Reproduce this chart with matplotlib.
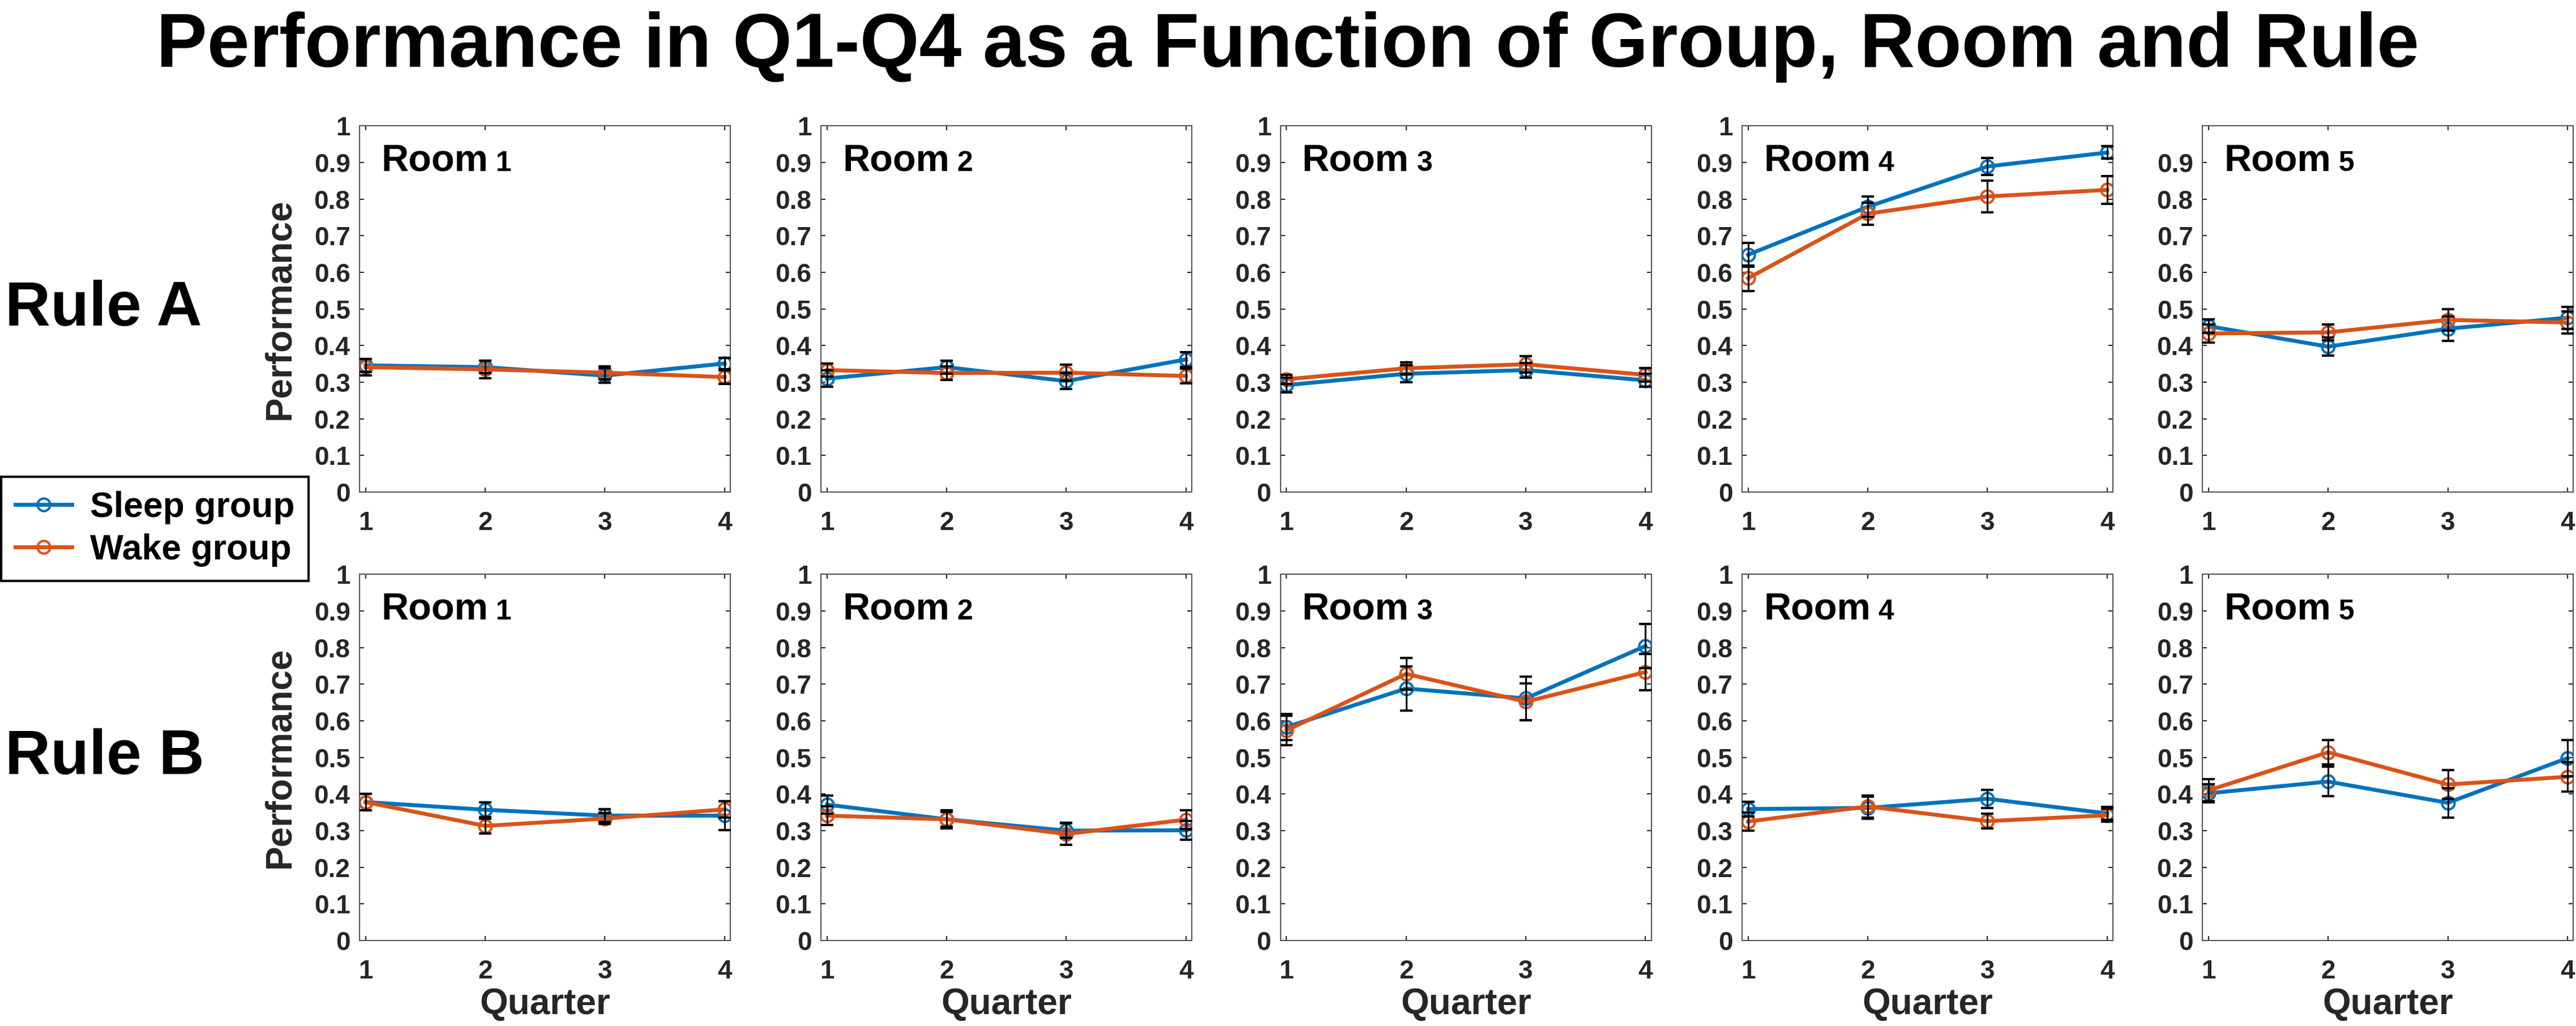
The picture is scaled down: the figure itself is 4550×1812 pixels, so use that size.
import numpy as np
import matplotlib.pyplot as plt

plt.rcParams['font.family'] = ['Liberation Sans', 'DejaVu Sans']
plt.rcParams['font.weight'] = 'bold'

quarters = [1, 2, 3, 4]
rooms = ['1', '2', '3', '4', '5']
rules = ['Rule A', 'Rule B']
groups = ['Sleep group', 'Wake group']

# rows = room 1..5, columns = Q1..Q4
sleep_a = [[0.346, 0.341, 0.318, 0.351],
           [0.310, 0.341, 0.303, 0.362],
           [0.292, 0.323, 0.333, 0.305],
           [0.648, 0.779, 0.889, 0.927],
           [0.453, 0.397, 0.446, 0.476]]
wake_a = [[0.341, 0.335, 0.326, 0.314],
          [0.333, 0.325, 0.326, 0.317],
          [0.308, 0.338, 0.349, 0.320],
          [0.584, 0.760, 0.807, 0.825],
          [0.433, 0.436, 0.470, 0.463]]
sleep_a_err = [[0.018, 0.017, 0.020, 0.016],
               [0.022, 0.018, 0.021, 0.020],
               [0.020, 0.023, 0.020, 0.018],
               [0.032, 0.028, 0.023, 0.017],
               [0.018, 0.025, 0.033, 0.030]]
wake_a_err = [[0.022, 0.024, 0.018, 0.019],
              [0.018, 0.019, 0.022, 0.020],
              [0.012, 0.016, 0.022, 0.018],
              [0.035, 0.030, 0.044, 0.038],
              [0.025, 0.022, 0.030, 0.030]]

sleep_b = [[0.378, 0.357, 0.341, 0.341],
           [0.371, 0.331, 0.300, 0.301],
           [0.583, 0.688, 0.661, 0.804],
           [0.359, 0.362, 0.387, 0.347],
           [0.402, 0.434, 0.376, 0.498]]
wake_b = [[0.378, 0.313, 0.333, 0.358],
          [0.341, 0.331, 0.291, 0.330],
          [0.574, 0.728, 0.652, 0.733],
          [0.325, 0.366, 0.326, 0.342],
          [0.410, 0.514, 0.426, 0.447]]
sleep_b_err = [[0.022, 0.020, 0.018, 0.040],
               [0.025, 0.025, 0.020, 0.025],
               [0.035, 0.060, 0.060, 0.060],
               [0.020, 0.030, 0.025, 0.018],
               [0.025, 0.040, 0.040, 0.050]]
wake_b_err = [[0.022, 0.020, 0.015, 0.022],
              [0.025, 0.020, 0.030, 0.025],
              [0.040, 0.043, 0.050, 0.050],
              [0.025, 0.030, 0.020, 0.018],
              [0.030, 0.033, 0.040, 0.040]]

sleep_col = '#0072BD'
wake_col = '#D95319'
axis_col = '#262626'

fig = plt.figure(figsize=(45.5, 18.12), dpi=100)

lefts = [0.1396, 0.3187, 0.4971, 0.6763, 0.8550]
bottoms = [0.5204, 0.0833]
w, h = 0.144, 0.357

data = [(sleep_a, wake_a, sleep_a_err, wake_a_err),
        (sleep_b, wake_b, sleep_b_err, wake_b_err)]

handles = None
for r in range(2):
    s, wk, se, we = data[r]
    for c in range(5):
        ax = fig.add_axes([lefts[c], bottoms[r], w, h])
        l1, = ax.plot(quarters, s[c], '-o', color=sleep_col, lw=5, ms=16,
                      mfc='none', mew=3, zorder=2)
        l2, = ax.plot(quarters, wk[c], '-o', color=wake_col, lw=5, ms=16,
                      mfc='none', mew=3, zorder=2)
        ax.errorbar(quarters, s[c], yerr=se[c], fmt='none', ecolor='k',
                    elinewidth=2.2, capsize=8, capthick=3, zorder=3)
        ax.errorbar(quarters, wk[c], yerr=we[c], fmt='none', ecolor='k',
                    elinewidth=2.2, capsize=8, capthick=3, zorder=3)
        if handles is None:
            handles = [l1, l2]

        ax.set_xlim(0.95, 4.05)
        ax.set_ylim(0, 1)
        ax.set_xticks(quarters)
        ax.set_xticklabels([str(q) for q in quarters])
        if r == 0 and c == 4:
            yt = np.round(np.arange(0, 0.95, 0.1), 1)
        else:
            yt = np.round(np.arange(0, 1.05, 0.1), 1)
        ax.set_yticks(yt)
        ax.set_yticklabels(['0' if v == 0 else ('1' if v == 1 else f'{v:g}') for v in yt])
        ax.tick_params(axis='both', direction='in', length=6, width=1.5,
                       color=axis_col, labelcolor=axis_col, labelsize=33,
                       top=True, right=True)
        ax.tick_params(axis='x', pad=24)
        ax.tick_params(axis='y', pad=12)
        for sp in ax.spines.values():
            sp.set_color('#555555')
            sp.set_linewidth(1.5)

        t = ax.text(0.058, 0.878, 'Room', transform=ax.transAxes, fontsize=48,
                    fontweight='bold', color='black', va='baseline', ha='left')
        ax.annotate(' ' + rooms[c], xy=(1, 0), xycoords=t, xytext=(0, 2.5),
                    textcoords='offset points', fontsize=36, fontweight='bold',
                    color='black', va='bottom', ha='left')

        if c == 0:
            ax.set_ylabel('Performance', fontsize=46, fontweight='bold',
                          color=axis_col, labelpad=22)
        if r == 1:
            ax.set_xlabel('Quarter', fontsize=46, fontweight='bold',
                          color=axis_col, labelpad=4)

for r in range(2):
    fig.text(0.002, bottoms[r] + h / 2, rules[r], fontsize=80,
             fontweight='bold', va='center', ha='left')

fig.suptitle('Performance in Q1-Q4 as a Function of Group, Room and Rule',
             x=0.5, y=0.954, fontsize=97, fontweight='bold', va='center')

leg = fig.legend(handles, groups, loc='upper left',
                 bbox_to_anchor=(0.0005, 0.5353), fontsize=45,
                 fancybox=False, edgecolor='black', framealpha=1,
                 handlelength=1.6, handletextpad=0.5, borderpad=0.4,
                 labelspacing=0.25, borderaxespad=0)
leg.get_frame().set_linewidth(3)

fig.savefig('out.png', dpi=100)
